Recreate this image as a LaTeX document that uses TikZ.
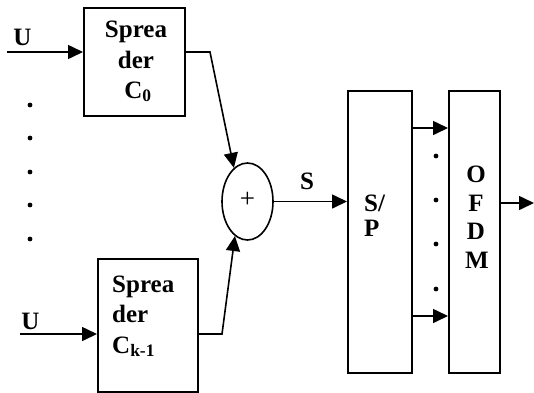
\documentclass[tikz,border=0pt]{standalone}
\usepackage{fontspec}
\setmainfont{Liberation Serif}
\usetikzlibrary{arrows.meta,shapes.geometric}
\begin{document}
\begin{tikzpicture}[x=1pt,y=1pt,
  blk/.style={draw, line width=2pt, anchor=north west, inner sep=0pt},
  lbl/.style={font=\fontsize{25}{29}\selectfont\bfseries, inner sep=0pt},
  con/.style={line width=1.6pt},
  arr/.style={con, -{Triangle[length=15pt,width=14pt]}},
  dotnode/.style={circle, fill=black, inner sep=0pt, minimum size=4.8pt}]
\useasboundingbox (0,0) rectangle (534,-392);
% boxes
\node[blk, minimum width=101pt, minimum height=108pt] (c0) at (83,-7) {};
\node[blk, minimum width=100pt, minimum height=133pt] (ck) at (97,-258) {};
\node[blk, minimum width=64pt, minimum height=282pt] (sp) at (347,-90) {};
\node[blk, minimum width=51pt, minimum height=282pt] (ofdm) at (448,-90) {};
\node[draw, ellipse, line width=1.6pt, minimum width=51pt, minimum height=77pt, inner sep=0pt,
      font=\fontsize{27}{30}\selectfont] (sum) at (247.5,-201.5) {\raisebox{3pt}{+}};
% texts
\node[lbl, anchor=base] (c0a) at (136,-37) {Sprea};
\node[lbl, anchor=base] (c0b) at (136,-68) {der};
\node[lbl, anchor=base] (c0c) at (138,-98) {C\textsubscript{0}};
\node[lbl, anchor=base west] (cka) at (112,-292) {Sprea};
\node[lbl, anchor=base west] (ckb) at (112,-322) {der};
\node[lbl, anchor=base west] (ckc) at (112,-353) {C\textsubscript{k-1}};
\node[lbl, anchor=base west] (spa) at (364,-211) {S/};
\node[lbl, anchor=base west] (spb) at (364,-236) {P};
\node[lbl, anchor=base] (o1) at (476,-182) {O};
\node[lbl, anchor=base] (o2) at (476,-211) {F};
\node[lbl, anchor=base] (o3) at (476,-239) {D};
\node[lbl, anchor=base] (o4) at (477,-268) {M};
\node[lbl, anchor=base] (ulab0) at (22.5,-45) {U};
\node[lbl, anchor=base] (ulab1) at (30.5,-329) {U};
\node[lbl, anchor=base] (slab) at (307,-189) {S};
% coordinates
\coordinate (u0) at (7,-52);
\coordinate (u1) at (20,-334);
\coordinate (b0) at (210,-52);
\coordinate (b1) at (222,-334);
\coordinate (out) at (534,-203);
% connectors
\draw[arr] (u0) -- (u0 -| c0.west);
\draw[arr] (u1) -- (u1 -| ck.west);
\draw[arr] (b0 -| c0.east) -- (b0) -- (sum.112);
\draw[arr] (b1 -| ck.east) -- (b1) -- (sum.250);
\draw[arr] (sum.east) -- (sum.east -| sp.west);
\draw[arr] (sp.east |- 0,-128) -- (ofdm.west |- 0,-128);
\draw[arr] (sp.east |- 0,-316) -- (ofdm.west |- 0,-316);
\draw[arr] (out -| ofdm.east) -- (out);
% dots
\foreach \i/\yy in {1/105,2/138,3/172,4/205,5/239}
  \node[dotnode] (ld\i) at (30,-\yy) {};
\foreach \i/\yy in {1/156,2/200,3/244,4/289}
  \node[dotnode] (md\i) at (436,-\yy) {};
\end{tikzpicture}
\end{document}
